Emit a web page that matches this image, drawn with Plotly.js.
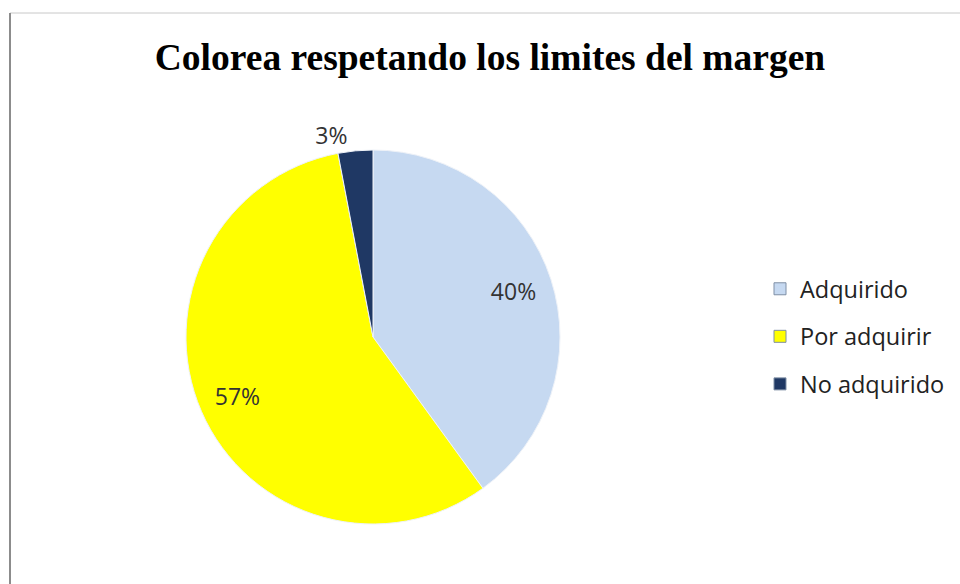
<!DOCTYPE html>
<html>
<head>
<meta charset="utf-8">
<script src="https://cdn.plot.ly/plotly-3.0.1.min.js"></script>
<style>html,body{margin:0;padding:0;background:#fff;}#chart{width:960px;height:584px;}</style>
</head>
<body>
<div id="chart"></div>
<script>
const chartTitle = "Colorea respetando los limites del margen";
const categories = ["Adquirido", "Por adquirir", "No adquirido"];
const values = [40, 57, 3];
const sliceColors = ["#C6D9F1", "#FFFF00", "#1F3864"];
const labelPositions = ["inside", "inside", "outside"];

const W = 960, H = 584;
const cx = 373, cy = 337, R = 187;
const pieDomain = {x: [(cx - R) / W, (cx + R) / W], y: [(H - cy - R) / H, (H - cy + R) / H]};
const labelFont = {family: "Open Sans, Noto Sans, sans-serif", size: 23, color: "#333333"};

// main pie: slices + the small outside label
const pie = {
  type: "pie",
  labels: categories,
  values: values,
  sort: false,
  direction: "clockwise",
  rotation: 0,
  marker: {colors: sliceColors, line: {color: "#EEF2F8", width: 1}},
  texttemplate: values.map((v, i) => labelPositions[i] === "outside" ? "%{percent:.0%}" : ""),
  textposition: labelPositions,
  textfont: labelFont,
  outsidetextfont: labelFont,
  showlegend: false,
  hoverinfo: "label+percent",
  domain: pieDomain
};

// transparent ring on top: places the inside labels further out, like the original
const labelRing = {
  type: "pie",
  labels: categories,
  values: values,
  sort: false,
  direction: "clockwise",
  rotation: 0,
  hole: 0.58,
  marker: {colors: ["rgba(0,0,0,0)", "rgba(0,0,0,0)", "rgba(0,0,0,0)"], line: {width: 0}},
  texttemplate: values.map((v, i) => labelPositions[i] === "inside" ? "%{percent:.0%}" : ""),
  textposition: "inside",
  insidetextorientation: "horizontal",
  textfont: labelFont,
  showlegend: false,
  hoverinfo: "skip",
  domain: pieDomain
};

const legendTraces = categories.map((c, i) => ({
  type: "scatter",
  mode: "markers",
  x: [null], y: [null],
  name: c,
  legendgroup: "g" + i,
  marker: {symbol: "square", size: 12, color: sliceColors[i], line: {color: "#7F8FA6", width: 1}},
  hoverinfo: "skip"
}));

const layout = {
  width: W, height: H,
  margin: {l: 0, r: 0, t: 0, b: 0},
  paper_bgcolor: "#ffffff",
  plot_bgcolor: "rgba(0,0,0,0)",
  title: {
    text: "<b>" + chartTitle + "</b>",
    font: {family: "Liberation Serif, Times New Roman, serif", size: 37.5, color: "#000000"},
    x: 490 / W, xanchor: "center",
    y: 1 - 57 / H, yanchor: "middle"
  },
  xaxis: {visible: false, range: [0, 1]},
  yaxis: {visible: false, range: [0, 1]},
  showlegend: true,
  legend: {
    x: 760 / W, xanchor: "left",
    y: 1 - 267 / H, yanchor: "top",
    traceorder: "grouped",
    tracegroupgap: 14,
    font: {family: "Open Sans, Noto Sans, sans-serif", size: 23.5, color: "#222222"},
    bgcolor: "rgba(0,0,0,0)"
  },
  shapes: [
    {type: "line", xref: "paper", yref: "paper", x0: 10 / W, x1: 1, y0: 1 - 13 / H, y1: 1 - 13 / H, line: {color: "#C8C8C8", width: 1}},
    {type: "line", xref: "paper", yref: "paper", x0: 10 / W, x1: 10 / W, y0: 0, y1: 1 - 13 / H, line: {color: "#8C8C8C", width: 2}}
  ]
};

Plotly.newPlot("chart", [pie, labelRing].concat(legendTraces), layout, {displayModeBar: false, staticPlot: true});
</script>
</body>
</html>
